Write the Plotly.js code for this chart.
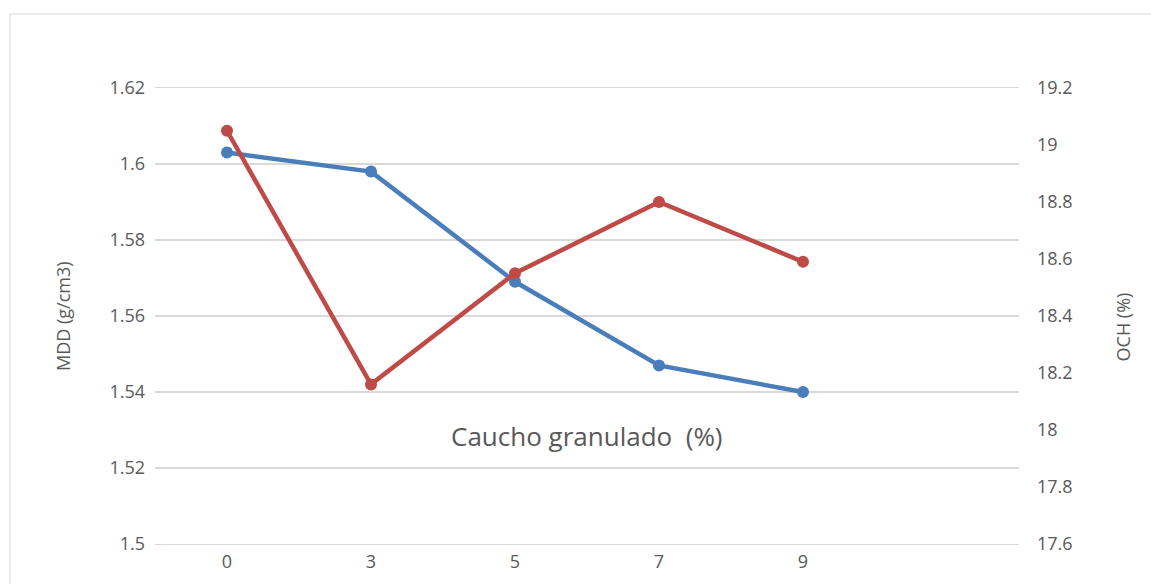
<!DOCTYPE html>
<html>
<head>
<meta charset="utf-8">
<script src="https://cdn.plot.ly/plotly-3.0.1.min.js"></script>
<style>html,body{margin:0;padding:0;background:#fff;}</style>
</head>
<body>
<div id="chart" style="width:1151px;height:584px;"></div>
<script>
const xLabels = ['0', '3', '5', '7', '9'];
const mddValues = [1.603, 1.598, 1.569, 1.547, 1.540];
const ochValues = [19.05, 18.16, 18.55, 18.80, 18.59];
const leftTicks = [1.5, 1.52, 1.54, 1.56, 1.58, 1.6, 1.62];
const leftTickText = ['1.5', '1.52', '1.54', '1.56', '1.58', '1.6', '1.62'];
const rightTicks = [17.6, 17.8, 18, 18.2, 18.4, 18.6, 18.8, 19, 19.2];
const rightTickText = ['17.6', '17.8', '18', '18.2', '18.4', '18.6', '18.8', '19', '19.2'];

const xIdx = xLabels.map((_, i) => i);
const font = '"Open Sans", Lato, sans-serif';
const txt = '#595959';

const traces = [
  {
    x: xIdx, y: mddValues, type: 'scatter', mode: 'lines+markers', name: 'MDD',
    line: {color: '#4a7ebb', width: 4.5}, marker: {color: '#4a7ebb', size: 12},
    yaxis: 'y', hoverinfo: 'x+y'
  },
  {
    x: xIdx, y: ochValues, type: 'scatter', mode: 'lines+markers', name: 'OCH',
    line: {color: '#be4b48', width: 4.5}, marker: {color: '#be4b48', size: 12},
    yaxis: 'y2', hoverinfo: 'x+y'
  }
];

const layout = {
  width: 1151, height: 584,
  margin: {l: 155, r: 132, t: 88, b: 40},
  paper_bgcolor: '#ffffff', plot_bgcolor: '#ffffff',
  showlegend: false,
  font: {family: font, color: txt, size: 18},
  xaxis: {
    range: [-0.5, 5.5], tickvals: xIdx, ticktext: xLabels,
    showgrid: false, zeroline: false,
    showline: true, mirror: true, linecolor: '#d9d9d9', linewidth: 1.3,
    ticks: '', tickfont: {size: 18, color: txt}, ticklabelstandoff: 1
  },
  yaxis: {
    range: [1.5, 1.62], tickvals: leftTicks, ticktext: leftTickText,
    showgrid: true, gridcolor: '#d9d9d9', gridwidth: 1.3, zeroline: false, showline: false,
    ticks: '', tickfont: {size: 18, color: txt}, ticklabelstandoff: 9
  },
  yaxis2: {
    range: [17.6, 19.2], tickvals: rightTicks, ticktext: rightTickText,
    overlaying: 'y', side: 'right', showgrid: false, zeroline: false, showline: false,
    ticks: '', tickfont: {size: 18, color: txt}, ticklabelstandoff: 17
  },
  annotations: [
    {text: 'Caucho granulado  (%)', xref: 'paper', yref: 'paper', x: 0.5, y: 0.237,
     xanchor: 'center', yanchor: 'middle', showarrow: false, font: {size: 26, color: txt, family: font}},
    {text: 'MDD (g/cm3)', xref: 'paper', yref: 'paper', x: -0.1065, y: 0.5,
     xanchor: 'center', yanchor: 'middle', textangle: -90, showarrow: false, font: {size: 18, color: txt, family: font}},
    {text: 'OCH (%)', xref: 'paper', yref: 'paper', x: 1.1204, y: 0.475,
     xanchor: 'center', yanchor: 'middle', textangle: -90, showarrow: false, font: {size: 18, color: txt, family: font}}
  ],
  shapes: [
    {type: 'rect', xref: 'paper', yref: 'paper', x0: -0.1678, x1: 1.3, y0: -0.2, y1: 1.1623,
     line: {color: '#d9d9d9', width: 1}, fillcolor: 'rgba(0,0,0,0)', layer: 'below'}
  ]
};

Plotly.newPlot('chart', traces, layout, {displayModeBar: false, staticPlot: true});
</script>
</body>
</html>
